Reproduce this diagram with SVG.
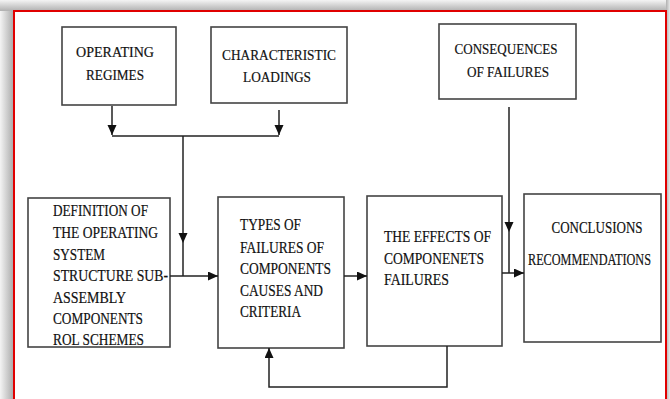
<svg xmlns="http://www.w3.org/2000/svg" width="670" height="399" viewBox="0 0 670 399">
<defs>
<linearGradient id="gl" x1="0" x2="1" y1="0" y2="0"><stop offset="0" stop-color="#f4f4f4"/><stop offset="1" stop-color="#a8a8a8"/></linearGradient>
<linearGradient id="gt" x1="0" x2="0" y1="0" y2="1"><stop offset="0" stop-color="#f4f4f4"/><stop offset="1" stop-color="#b0b0b0"/></linearGradient>
<linearGradient id="gr" x1="0" x2="1" y1="0" y2="0"><stop offset="0" stop-color="#b0b0b0"/><stop offset="1" stop-color="#e8e8e8"/></linearGradient>
<marker id="ah" markerUnits="userSpaceOnUse" markerWidth="10" markerHeight="10" refX="10" refY="4.5" orient="auto"><path d="M0,0 L10,4.5 L0,9 z" fill="#111"/></marker>
<style>
.box{fill:#fff;stroke:#444;stroke-width:1.6}
.t{font-family:"Liberation Serif","Times New Roman",serif;font-size:15.5px;fill:#111;stroke:#111;stroke-width:0.2}
.b{font-size:17px}
.c{text-anchor:middle}
.ln{fill:none;stroke:#222;stroke-width:1.5}
</style>
</defs>
<rect x="0" y="0" width="670" height="399" fill="#fff"/>
<rect x="0" y="0" width="14" height="399" fill="url(#gl)"/>
<rect x="0" y="0" width="670" height="11" fill="url(#gt)"/>
<rect x="666" y="0" width="4" height="399" fill="url(#gr)"/>
<rect x="14" y="11" width="652" height="400" fill="#fff" stroke="#e00000" stroke-width="2"/>

<g id="operating-regimes">
<rect class="box" x="62" y="27" width="114" height="78"/>
<text class="t c" x="115" y="57" textLength="78" lengthAdjust="spacingAndGlyphs">OPERATING</text>
<text class="t c" x="115" y="80" textLength="58" lengthAdjust="spacingAndGlyphs">REGIMES</text>
</g>
<g id="characteristic-loadings">
<rect class="box" x="211" y="27" width="136" height="76"/>
<text class="t c" x="279" y="60" textLength="114" lengthAdjust="spacingAndGlyphs">CHARACTERISTIC</text>
<text class="t c" x="277" y="82" textLength="68" lengthAdjust="spacingAndGlyphs">LOADINGS</text>
</g>
<g id="consequences">
<rect class="box" x="439" y="24" width="137" height="75"/>
<text class="t c" x="506" y="54" textLength="103" lengthAdjust="spacingAndGlyphs">CONSEQUENCES</text>
<text class="t c" x="508" y="77" textLength="82" lengthAdjust="spacingAndGlyphs">OF FAILURES</text>
</g>
<g id="definition">
<rect class="box" x="28" y="198" width="142" height="149"/>
<text class="t b" x="53" y="216" textLength="95" lengthAdjust="spacingAndGlyphs">DEFINITION OF</text>
<text class="t b" x="53" y="238" textLength="105" lengthAdjust="spacingAndGlyphs">THE OPERATING</text>
<text class="t b" x="53" y="260" textLength="52" lengthAdjust="spacingAndGlyphs">SYSTEM</text>
<text class="t b" x="53" y="281" textLength="115" lengthAdjust="spacingAndGlyphs">STRUCTURE SUB-</text>
<text class="t b" x="53" y="303" textLength="73" lengthAdjust="spacingAndGlyphs">ASSEMBLY</text>
<text class="t b" x="53" y="324" textLength="90" lengthAdjust="spacingAndGlyphs">COMPONENTS</text>
<text class="t b" x="53" y="345" textLength="91" lengthAdjust="spacingAndGlyphs">ROL SCHEMES</text>
</g>
<g id="types">
<rect class="box" x="218" y="197" width="126" height="151"/>
<text class="t b" x="240" y="230" textLength="61" lengthAdjust="spacingAndGlyphs">TYPES OF</text>
<text class="t b" x="240" y="253" textLength="84" lengthAdjust="spacingAndGlyphs">FAILURES OF</text>
<text class="t b" x="240" y="274" textLength="91" lengthAdjust="spacingAndGlyphs">COMPONENTS</text>
<text class="t b" x="240" y="296" textLength="83" lengthAdjust="spacingAndGlyphs">CAUSES AND</text>
<text class="t b" x="240" y="317" textLength="61" lengthAdjust="spacingAndGlyphs">CRITERIA</text>
</g>
<g id="effects">
<rect class="box" x="367" y="196" width="135" height="150"/>
<text class="t b" x="384" y="242" textLength="107" lengthAdjust="spacingAndGlyphs">THE EFFECTS OF</text>
<text class="t b" x="384" y="264" textLength="100" lengthAdjust="spacingAndGlyphs">COMPONENETS</text>
<text class="t b" x="384" y="285" textLength="65" lengthAdjust="spacingAndGlyphs">FAILURES</text>
</g>
<g id="conclusions">
<rect class="box" x="524" y="194" width="137" height="148"/>
<text class="t b c" x="597" y="233" textLength="91" lengthAdjust="spacingAndGlyphs">CONCLUSIONS</text>
<text class="t b" transform="translate(528,265) scale(0.72,1)" x="0" y="0">RECOMMENDATIONS</text>
</g>

<g id="connectors">
<path class="ln" d="M112,106 V135" marker-end="url(#ah)"/>
<path class="ln" d="M279,110 V135" marker-end="url(#ah)"/>
<path class="ln" d="M112,136 H279"/>
<path class="ln" d="M183,136 V243" marker-end="url(#ah)"/>
<path class="ln" d="M183,243 V276"/>
<path class="ln" d="M170,276 H218" marker-end="url(#ah)"/>
<path class="ln" d="M344,276 H367" marker-end="url(#ah)"/>
<path class="ln" d="M509,107 V232" marker-end="url(#ah)"/>
<path class="ln" d="M509,232 V273"/>
<path class="ln" d="M502,273 H524" marker-end="url(#ah)"/>
<path class="ln" d="M447,346 V387 H269 V348" marker-end="url(#ah)"/>
</g>
</svg>
